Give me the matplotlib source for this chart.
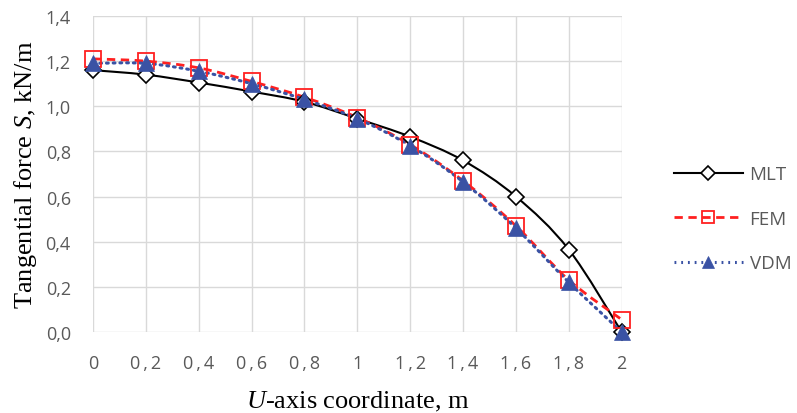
import matplotlib.pyplot as plt
import numpy as np
from matplotlib.path import Path
from matplotlib.patches import PathPatch

# valores
x = [0, 0.2, 0.4, 0.6, 0.8, 1.0, 1.2, 1.4, 1.6, 1.8, 2.0]
mlt = [1.16, 1.14, 1.105, 1.065, 1.02, 0.945, 0.865, 0.76, 0.60, 0.365, 0.0]
fem = [1.21, 1.20, 1.17, 1.11, 1.04, 0.95, 0.83, 0.67, 0.47, 0.23, 0.055]
vdm = [1.19, 1.19, 1.155, 1.10, 1.03, 0.945, 0.825, 0.665, 0.46, 0.22, 0.0]
ts = "\u2009"
xticklabels = ["0", f"0{ts},{ts}2", f"0{ts},{ts}4", f"0{ts},{ts}6", f"0{ts},{ts}8", "1",
               f"1{ts},{ts}2", f"1{ts},{ts}4", f"1{ts},{ts}6", f"1{ts},{ts}8", "2"]
yticks = [0, 0.2, 0.4, 0.6, 0.8, 1.0, 1.2, 1.4]


def curva_suave(ax, xs, ys, **kw):
    # linea suavizada tipo Excel (bezier entre puntos)
    xs = np.asarray(xs, float)
    ys = np.asarray(ys, float)
    verts = [(xs[0], ys[0])]
    codes = [Path.MOVETO]
    n = len(xs)
    for i in range(n - 1):
        p0 = np.array([xs[max(i - 1, 0)], ys[max(i - 1, 0)]])
        p1 = np.array([xs[i], ys[i]])
        p2 = np.array([xs[i + 1], ys[i + 1]])
        p3 = np.array([xs[min(i + 2, n - 1)], ys[min(i + 2, n - 1)]])
        c1 = p1 + (p2 - p0) / 6.0
        c2 = p2 - (p3 - p1) / 6.0
        verts += [tuple(c1), tuple(c2), tuple(p2)]
        codes += [Path.CURVE4] * 3
    ax.add_patch(PathPatch(Path(verts, codes), fill=False, clip_on=False, **kw))


plt.rcParams.update({
    'font.family': 'Liberation Serif',
    'mathtext.fontset': 'custom',
    'mathtext.it': 'Liberation Serif:italic',
    'mathtext.rm': 'Liberation Serif',
})

fig = plt.figure(figsize=(7.97, 4.14), dpi=100)
ax = fig.add_axes([0.1167, 0.1957, 0.6633, 0.7633])

gris = '#D9D9D9'
estilos = [
    (mlt, 'MLT', dict(color='black', lw=1.5, ls='-'),
     dict(marker='D', ms=8, mfc='white', mec='black', mew=1.2)),
    (fem, 'FEM', dict(color='#FF2020', lw=2.0, ls=(0, (3, 2))),
     dict(marker='s', ms=11, mfc='none', mec='#FF2020', mew=1.3)),
    (vdm, 'VDM', dict(color='#3A52A4', lw=2.2, ls=(0, (0.6, 1.6)), capstyle='round'),
     dict(marker='^', ms=11, mfc='#3A52A4', mec='#3A52A4', mew=0.5)),
]

handles = []
for ys, nombre, lkw, mkw in estilos:
    curva_suave(ax, x, ys, zorder=3, **lkw)
    ax.plot(x, ys, ls='none', zorder=4, clip_on=False, **mkw)
    leg_mkw = dict(mkw)
    leg_mkw['ms'] = mkw['ms'] * 0.85
    h, = ax.plot([], [], color=lkw['color'], lw=lkw['lw'], ls=lkw['ls'], **leg_mkw)
    handles.append(h)

ax.set_xlim(0, 2)
ax.set_ylim(0, 1.4)
ax.set_xticks(x)
ax.set_xticklabels(xticklabels)
ax.set_yticks(yticks)
ax.set_yticklabels([f"{v:.1f}".replace('.', ',') for v in yticks])
for lab in ax.get_xticklabels() + ax.get_yticklabels():
    lab.set_fontfamily('Open Sans')
    lab.set_fontsize(13)
    lab.set_color('#595959')
ax.tick_params(axis='x', length=0, pad=16)
ax.tick_params(axis='y', length=0, pad=16)
ax.grid(True, color=gris, lw=1)
ax.set_axisbelow(True)
for s in ax.spines.values():
    s.set_visible(False)

ax.set_xlabel(r"$\mathit{U}$-axis coordinate, m", fontsize=19, labelpad=12)
ax.set_ylabel(r"Tangential force $\mathit{S}$, kN/m", fontsize=19, labelpad=5)

leg = fig.legend(handles, ['MLT', 'FEM', 'VDM'], loc='center left',
                 bbox_to_anchor=(0.824, 0.469), frameon=False, handlelength=3.7,
                 labelspacing=1.42, numpoints=1, handletextpad=0.35,
                 prop={'family': 'Open Sans', 'size': 13.5})
for t in leg.get_texts():
    t.set_color('#595959')

fig.savefig("out.png", dpi=100)
